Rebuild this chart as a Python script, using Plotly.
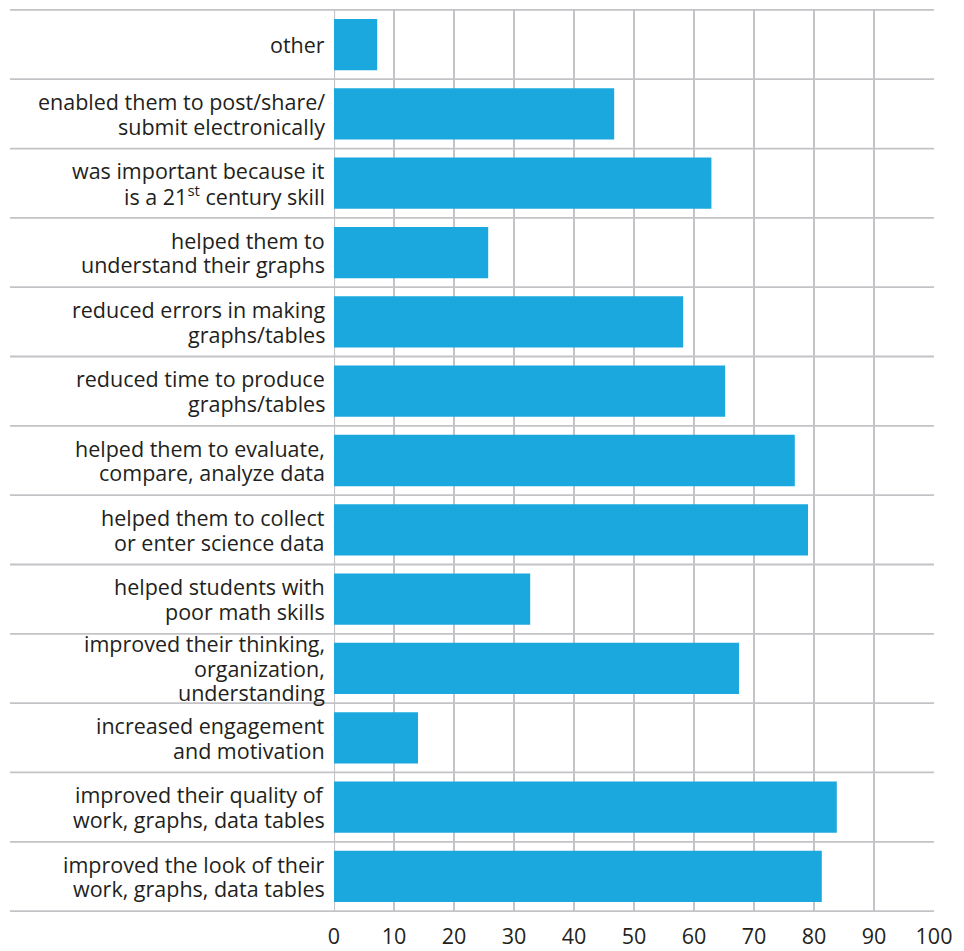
import plotly.graph_objects as go

categories = [
    "other",
    "enabled them to post/share/<br>submit electronically",
    "was important because it<br>is a 21<sup>st</sup> century skill",
    "helped them to<br>understand their graphs",
    "reduced errors in making<br>graphs/tables",
    "reduced time to produce<br>graphs/tables",
    "helped them to evaluate,<br>compare, analyze data",
    "helped them to collect<br>or enter science data",
    "helped students with<br>poor math skills",
    "improved their thinking,<br>organization,<br>understanding",
    "increased engagement<br>and motivation",
    "improved their quality of<br>work, graphs, data tables",
    "improved the look of their<br>work, graphs, data tables",
]
values = [7.2, 46.7, 62.9, 25.7, 58.2, 65.2, 76.8, 79.0, 32.7, 67.5, 14.0, 83.8, 81.3]
x_ticks = [0, 10, 20, 30, 40, 50, 60, 70, 80, 90, 100]

BAR = "#1ba8df"
GRID = "#c4c4c8"
TXT = "#231f20"
FONT = "Open Sans"
FS = 21.5
LEAD = 24.5

fig = go.Figure(go.Bar(
    y=categories, x=values, orientation="h",
    marker=dict(color=BAR, line=dict(width=0)),
    width=0.74,
))

# page has an 8px body margin; figure sized so the plot lands where the reference has it
W, H = 948, 943
ml, mr, mt, mb = 326, 22, 1, 39
plot_w = W - ml - mr
sep_left = (2 - ml) / plot_w
label_right = -8 / plot_w

shapes = []
n = len(categories)
for i in range(n + 1):
    shapes.append(dict(type="line", xref="paper", yref="y",
                       x0=sep_left, x1=1, y0=i - 0.5, y1=i - 0.5,
                       line=dict(color=GRID, width=1.8), layer="below"))
shapes.append(dict(type="line", xref="x", yref="paper", x0=0, x1=0, y0=0, y1=1,
                   line=dict(color=GRID, width=2.2), layer="below"))

# category labels with tight line spacing like the reference
annotations = []
for cat in categories:
    lines = cat.split("<br>")
    m = len(lines)
    for k, ln in enumerate(lines):
        annotations.append(dict(
            xref="paper", yref="y", x=label_right, y=cat,
            text=ln, showarrow=False, xanchor="right", yanchor="middle",
            yshift=((m - 1) / 2 - k) * LEAD, borderpad=0,
            font=dict(family=FONT, size=FS, color=TXT),
        ))

fig.update_layout(
    width=W, height=H,
    margin=dict(l=ml, r=mr, t=mt, b=mb, pad=0),
    paper_bgcolor="white", plot_bgcolor="white",
    showlegend=False,
    font=dict(family=FONT, size=FS, color=TXT),
    bargap=0.26,
    shapes=shapes,
    annotations=annotations,
    xaxis=dict(range=[0, 100], tickvals=x_ticks, showgrid=True, gridcolor=GRID,
               gridwidth=2.2, zeroline=False, showline=False, ticks="",
               ticklabelstandoff=9, tickfont=dict(size=FS, color=TXT),
               automargin=False, fixedrange=True),
    yaxis=dict(autorange="reversed", showgrid=False, zeroline=False, showline=False,
               ticks="", showticklabels=False, automargin=False, fixedrange=True),
)

fig.write_html("out.html")
